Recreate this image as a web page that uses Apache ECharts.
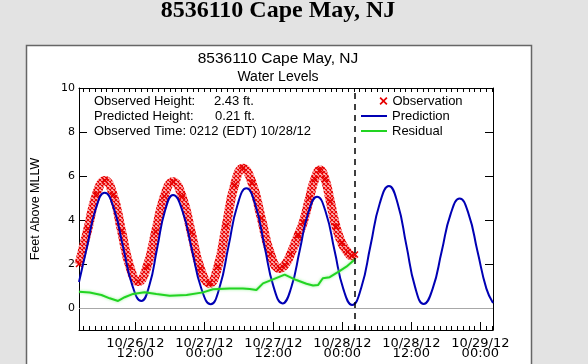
<!DOCTYPE html>
<html><head><meta charset="utf-8">
<script src="https://cdn.jsdelivr.net/npm/echarts@6/dist/echarts.min.js"></script>
<style>html,body{margin:0;padding:0;background:#e3e3e3;}#c{width:588px;height:364px;}</style>
</head><body><div id="c"></div>
<script>
// ---- text ----
const pageTitle = '8536110 Cape May, NJ';
const chartTitle = '8536110 Cape May, NJ';
const chartSubtitle = 'Water Levels';
const yAxisName = 'Feet Above MLLW';
const seriesNames = ['Observation', 'Prediction', 'Residual'];
const infoLabels = ['Observed Height:', 'Predicted Height:'];
const infoValues = ['2.43 ft.', '0.21 ft.'];
const infoTimeLine = 'Observed Time: 0212 (EDT) 10/28/12';

// ---- axes (x in hours since 10/26/12 00:00 EDT) ----
const xMinHours = 2.2, xMaxHours = 74.2;
const xTickHours = [12, 24, 36, 48, 60, 72];
const xTickLabels = ['10/26/12\n12:00', '10/27/12\n00:00', '10/27/12\n12:00', '10/28/12\n00:00', '10/28/12\n12:00', '10/29/12\n00:00'];
const yMin = -1, yMax = 10;
const yTickValues = [0, 2, 4, 6, 8, 10];
const observedTimeHours = 50.2;

// ---- data ----
const obsHours = [2.2, 3.75, 5.23, 6.7, 8.15, 9.6, 11.05, 12.5, 14.01, 15.53, 17.04, 18.55, 20.14, 21.73, 23.31, 24.9, 26.35, 27.8, 29.25, 30.7, 32.3, 33.9, 35.5, 37.1, 38.0, 39.0, 40.3, 41.2, 42.3, 43.2, 44.1, 45.0, 45.9, 46.9, 47.9, 48.9, 49.6, 50.2];
const obsValues = [2.0, 3.6, 5.16, 5.8, 5.13, 3.5, 1.87, 1.2, 1.86, 3.47, 5.08, 5.74, 5.07, 3.43, 1.79, 1.12, 1.88, 3.74, 5.59, 6.35, 5.69, 4.08, 2.46, 1.80, 1.95, 2.45, 3.3, 3.9, 5.0, 5.85, 6.27, 5.85, 4.85, 3.7, 2.95, 2.55, 2.38, 2.43];

const predHours = [2.2, 3.59, 5.13, 6.67, 8.27, 9.86, 11.46, 13.05, 14.43, 15.8, 17.18, 18.55, 20.19, 21.83, 23.46, 25.1, 26.65, 28.2, 29.75, 31.3, 32.88, 34.45, 36.03, 37.6, 39.1, 40.6, 42.1, 43.6, 45.13, 46.65, 48.18, 49.7, 51.3, 52.9, 54.5, 56.1, 57.61, 59.13, 60.64, 62.15, 63.71, 65.28, 66.84, 68.4, 69.95, 71.5, 73.05, 74.2];
const predValues = [1.18, 2.77, 4.52, 5.24, 4.52, 2.78, 1.04, 0.32, 1.02, 2.73, 4.44, 5.14, 4.41, 2.66, 0.90, 0.17, 0.94, 2.81, 4.67, 5.44, 4.68, 2.83, 0.97, 0.21, 0.92, 2.64, 4.35, 5.06, 4.34, 2.60, 0.86, 0.14, 0.93, 2.84, 4.75, 5.54, 4.76, 2.86, 0.96, 0.18, 0.88, 2.58, 4.28, 4.98, 4.28, 2.58, 0.88, 0.23];

const resHours = [2.2, 4.06, 6.1, 7.54, 9.0, 10.15, 11.6, 13.6, 15.66, 17.97, 20.9, 23.77, 25.5, 28.4, 30.7, 31.9, 33.05, 34.2, 35.95, 37.97, 40.0, 41.75, 42.9, 43.8, 44.6, 45.8, 47.5, 48.7, 50.15];
const resValues = [0.74, 0.70, 0.59, 0.44, 0.32, 0.49, 0.64, 0.72, 0.64, 0.56, 0.59, 0.71, 0.85, 0.89, 0.89, 0.86, 0.82, 1.12, 1.30, 1.52, 1.27, 1.10, 1.02, 1.05, 1.35, 1.40, 1.68, 1.88, 2.20];

const zip = (a, b) => a.map((v, i) => [v, b[i]]);
const hourlyTicks = [];
for (let h = Math.ceil(xMinHours); h <= Math.floor(xMaxHours); h++) hourlyTicks.push(h);

// small crosses texture for the observation band
const tex = document.createElement('canvas');
tex.width = 4; tex.height = 4;
(function () {
  const g = tex.getContext('2d');
  g.fillStyle = '#ffc4c4'; g.fillRect(0, 0, 4, 4);
  g.strokeStyle = '#e80000'; g.lineWidth = 1.1;
  g.beginPath(); g.moveTo(0, 0); g.lineTo(4, 4); g.moveTo(4, 0); g.lineTo(0, 4); g.stroke();
})();

const xMark = 'path://M0,1.5L1.5,0L5,3.5L8.5,0L10,1.5L6.5,5L10,8.5L8.5,10L5,6.5L1.5,10L0,8.5L3.5,5Z';
const sans = 'Liberation Sans';
const GL = 79, GT = 88, GW = 414, GH = 242;

const chart = echarts.init(document.getElementById('c'), null, {renderer: 'canvas', devicePixelRatio: 1});
const legendText = {fontFamily: sans, fontSize: 13, color: '#000'};
const option = {
  backgroundColor: '#e3e3e3',
  animation: false,
  grid: {left: GL, top: GT, width: GW, height: GH, containLabel: false},
  legend: [
    {data: [{name: seriesNames[0], icon: xMark, itemStyle: {color: '#e60000'}}], left: 379.5, top: 94.5, itemWidth: 8, itemHeight: 8, textStyle: legendText, selectedMode: false, padding: 0},
    {data: [{name: seriesNames[1], icon: 'rect'}], left: 361, top: 109.5, itemWidth: 26, itemHeight: 2, textStyle: legendText, selectedMode: false, padding: 0},
    {data: [{name: seriesNames[2], icon: 'rect'}], left: 361, top: 124.5, itemWidth: 26, itemHeight: 2, textStyle: legendText, selectedMode: false, padding: 0}
  ],
  xAxis: [
    {type: 'value', min: xMinHours, max: xMaxHours, position: 'bottom',
     axisLine: {show: true, onZero: false, lineStyle: {color: '#000', width: 1}},
     axisTick: {show: true, inside: true, length: 8, customValues: xTickHours, lineStyle: {color: '#000'}},
     axisLabel: {show: true, customValues: xTickHours, margin: 9, fontFamily: 'DejaVu Sans', fontSize: 13, lineHeight: 10, color: '#000',
       formatter: v => xTickLabels[xTickHours.indexOf(Math.round(v))] || ''},
     splitLine: {show: false}},
    {type: 'value', min: xMinHours, max: xMaxHours, position: 'bottom',
     axisLine: {show: false, onZero: false},
     axisTick: {show: true, inside: true, length: 4, customValues: hourlyTicks, lineStyle: {color: '#000'}},
     axisLabel: {show: false}, splitLine: {show: false}},
    {type: 'value', min: xMinHours, max: xMaxHours, position: 'top',
     axisLine: {show: true, onZero: false, lineStyle: {color: '#000', width: 1}},
     axisTick: {show: true, inside: true, length: 4, customValues: hourlyTicks, lineStyle: {color: '#000'}},
     axisLabel: {show: false}, splitLine: {show: false}}
  ],
  yAxis: [
    {type: 'value', min: yMin, max: yMax, position: 'left',
     name: yAxisName, nameLocation: 'middle', nameGap: 37, nameTextStyle: {fontFamily: sans, fontSize: 12.5, color: '#000'},
     axisLine: {show: true, onZero: false, lineStyle: {color: '#000', width: 1}},
     axisTick: {show: true, inside: true, length: 8, customValues: yTickValues, lineStyle: {color: '#000'}},
     axisLabel: {show: true, customValues: yTickValues, margin: 4, fontFamily: 'DejaVu Sans', fontSize: 11, color: '#000'},
     splitLine: {show: false}},
    {type: 'value', min: yMin, max: yMax, position: 'right',
     axisLine: {show: true, onZero: false, lineStyle: {color: '#000', width: 1}},
     axisTick: {show: true, inside: true, length: 8, customValues: yTickValues.slice(1, 5), lineStyle: {color: '#000'}},
     axisLabel: {show: false}, splitLine: {show: false}}
  ],
  series: [
    {name: seriesNames[0], type: 'line', data: zip(obsHours, obsValues), smooth: true,
     symbol: xMark, symbolSize: 7, showSymbol: true,
     itemStyle: {color: '#e60000'}, lineStyle: {color: {image: tex, repeat: 'repeat'}, width: 9}, z: 2,
     markLine: {silent: true, symbol: 'none', label: {show: false},
       lineStyle: {color: '#000', type: [6, 5], width: 1.5},
       data: [{xAxis: observedTimeHours}]}},
    {name: seriesNames[1], type: 'line', data: zip(predHours, predValues), smooth: true,
     symbol: 'none', itemStyle: {color: '#0000b4'}, lineStyle: {color: '#0000b4', width: 2}, z: 3},
    {name: seriesNames[2], type: 'line', data: zip(resHours, resValues), smooth: false,
     symbol: 'none', itemStyle: {color: '#22d422'}, lineStyle: {color: '#22d422', width: 2, shadowColor: 'rgba(120,240,120,0.8)', shadowBlur: 3}, z: 4,
     markLine: {silent: true, symbol: 'none', label: {show: false},
       lineStyle: {color: '#a8a8a8', type: 'solid', width: 1},
       data: [{yAxis: 0}]}}
  ],
  graphic: [
    {type: 'rect', z: -100, shape: {x: 26.5, y: 45.5, width: 505, height: 330}, style: {fill: '#fff', stroke: '#666', lineWidth: 1.5}},
    {type: 'text', z: 100, style: {text: pageTitle, x: 278, y: 11, textAlign: 'center', textVerticalAlign: 'middle', font: 'bold 24px "Liberation Serif"', fill: '#000'}},
    {type: 'text', z: 100, style: {text: chartTitle, x: 278, y: 59, textAlign: 'center', textVerticalAlign: 'middle', font: '15.5px "Liberation Sans"', fill: '#000'}},
    {type: 'text', z: 100, style: {text: chartSubtitle, x: 278, y: 77.5, textAlign: 'center', textVerticalAlign: 'middle', font: '14px "Liberation Sans"', fill: '#000'}},
    {type: 'text', z: 100, style: {text: infoLabels[0], x: 94, y: 101, textVerticalAlign: 'middle', font: '13px "Liberation Sans"', fill: '#000'}},
    {type: 'text', z: 100, style: {text: infoValues[0], x: 214, y: 101, textVerticalAlign: 'middle', font: '13px "Liberation Sans"', fill: '#000'}},
    {type: 'text', z: 100, style: {text: infoLabels[1], x: 94, y: 116, textVerticalAlign: 'middle', font: '13px "Liberation Sans"', fill: '#000'}},
    {type: 'text', z: 100, style: {text: infoValues[1], x: 215, y: 116, textVerticalAlign: 'middle', font: '13px "Liberation Sans"', fill: '#000'}},
    {type: 'text', z: 100, style: {text: infoTimeLine, x: 94, y: 131, textVerticalAlign: 'middle', font: '13px "Liberation Sans"', fill: '#000'}}
  ]
};
chart.setOption(option);
</script></body></html>
